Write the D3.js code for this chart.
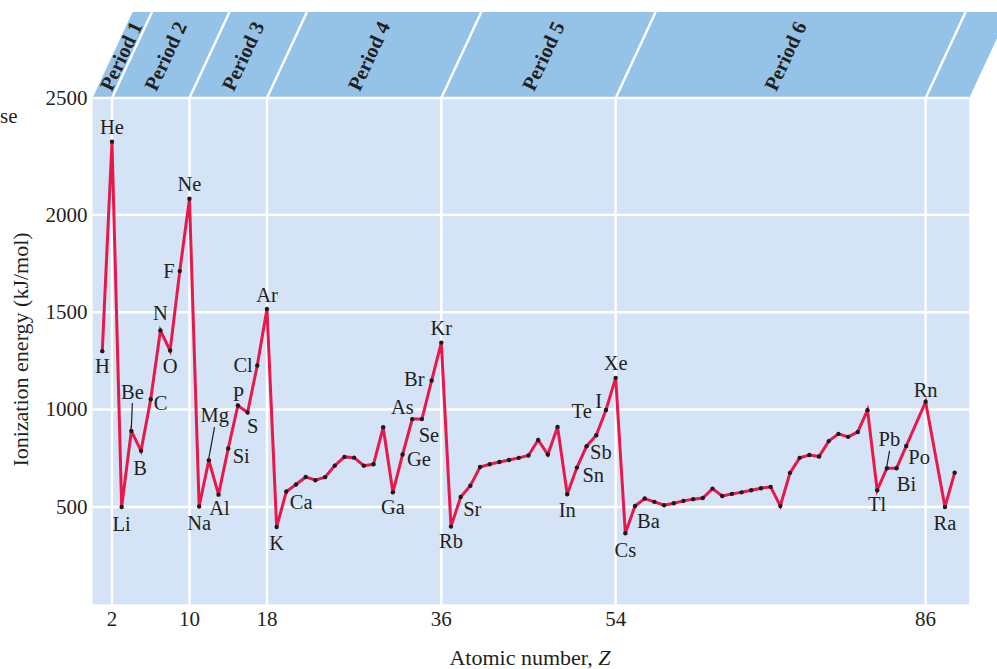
<!DOCTYPE html>
<html>
<head>
<meta charset="utf-8">
<script src="https://cdn.jsdelivr.net/npm/d3@7"></script>
<style>
  html, body { margin: 0; padding: 0; background: #ffffff; }
  svg { display: block; }
  text { font-family: "Liberation Serif", "Times New Roman", serif; fill: #231f20; }
</style>
</head>
<body>
<svg id="chart" width="997" height="669"></svg>
<script>
// ---------------- DATA ----------------
const atomicNumbers = [
  1, 2, 3, 4, 5, 6, 7, 8, 9, 10,
  11, 12, 13, 14, 15, 16, 17, 18,
  19, 20, 21, 22, 23, 24, 25, 26, 27, 28, 29, 30, 31, 32, 33, 34, 35, 36,
  37, 38, 39, 40, 41, 42, 43, 44, 45, 46, 47, 48, 49, 50, 51, 52, 53, 54,
  55, 56, 57, 58, 59, 60, 61, 62, 63, 64, 65, 66, 67, 68, 69, 70, 71, 72,
  73, 74, 75, 76, 77, 78, 79, 80, 81, 82, 83, 84, 86, 88, 89
];
const symbols = [
  "H", "He", "Li", "Be", "B", "C", "N", "O", "F", "Ne",
  "Na", "Mg", "Al", "Si", "P", "S", "Cl", "Ar",
  "K", "Ca", "Sc", "Ti", "V", "Cr", "Mn", "Fe", "Co", "Ni", "Cu", "Zn", "Ga", "Ge", "As", "Se", "Br", "Kr",
  "Rb", "Sr", "Y", "Zr", "Nb", "Mo", "Tc", "Ru", "Rh", "Pd", "Ag", "Cd", "In", "Sn", "Sb", "Te", "I", "Xe",
  "Cs", "Ba", "La", "Ce", "Pr", "Nd", "Pm", "Sm", "Eu", "Gd", "Tb", "Dy", "Ho", "Er", "Tm", "Yb", "Lu", "Hf",
  "Ta", "W", "Re", "Os", "Ir", "Pt", "Au", "Hg", "Tl", "Pb", "Bi", "Po", "Rn", "Ra", "Ac"
];
const ionizationEnergies = [
  1300, 2375, 500, 890, 788, 1053, 1406, 1303, 1711, 2083,
  502, 740, 563, 800, 1021, 985, 1226, 1517,
  397, 579, 615, 654, 637, 653, 712, 757, 753, 712, 719, 909, 575, 769, 951, 951, 1149, 1344,
  399, 551, 609, 705, 719, 731, 741, 752, 764, 844, 769, 911, 565, 702, 812, 868, 998, 1163,
  365, 505, 543, 526, 509, 519, 531, 540, 546, 594, 556, 567, 575, 586, 596, 603, 505, 675,
  752, 767, 759, 838, 875, 860, 885, 997, 586, 699, 699, 813, 1040, 500, 676
];
const labeledSymbols = [
  "H", "He", "Li", "Be", "B", "C", "N", "O", "F", "Ne",
  "Na", "Mg", "Al", "Si", "P", "S", "Cl", "Ar",
  "K", "Ca", "Ga", "Ge", "As", "Se", "Br", "Kr",
  "Rb", "Sr", "In", "Sn", "Sb", "Te", "I", "Xe",
  "Cs", "Ba", "Tl", "Pb", "Bi", "Po", "Rn", "Ra"
];
const periodBoundaries = [2, 10, 18, 36, 54, 86];
const periodLabels = ["Period 1", "Period 2", "Period 3", "Period 4", "Period 5", "Period 6"];
const xTicks = [2, 10, 18, 36, 54, 86];
const yTicks = [500, 1000, 1500, 2000, 2500];
const xTitle = "Atomic number, ";
const xTitleVar = "Z";
const yTitle = "Ionization energy (kJ/mol)";

// ---------------- LAYOUT ----------------
const svg = d3.select("#chart");
const panel = { left: 92.6, right: 969.2, top: 98, bottom: 604.3 };
const headerTop = 12;
const slant = 40; // horizontal shift of header top edge
const x = d3.scaleLinear().domain([0, 90.5]).range([panel.left, panel.right]);
const y = d3.scaleLinear().domain([0, 2600]).range([panel.bottom, panel.top]);
const zMin = 0, zMax = 90.5;

const colHeader = "#95c2e7";
const colPanel = "#d4e3f5";
const colLine = "#e8184b";

// Panel background
svg.append("rect")
  .attr("x", x(zMin)).attr("y", panel.top)
  .attr("width", x(zMax) - x(zMin)).attr("height", panel.bottom - panel.top)
  .attr("fill", colPanel);

// Header band (slanted)
const hH = panel.top - headerTop;
svg.append("path")
  .attr("d", `M${x(zMin)},${panel.top} L${x(zMin) + slant},${headerTop} L${x(zMax) + slant},${headerTop} L${x(zMax)},${panel.top} Z`)
  .attr("fill", colHeader);

// Horizontal gridlines
const gridG = svg.append("g").attr("stroke", "#ffffff").attr("stroke-width", 2.4);
yTicks.slice(0, -1).forEach(v => {
  gridG.append("line").attr("x1", x(zMin)).attr("x2", x(zMax)).attr("y1", y(v)).attr("y2", y(v));
});
// Top edge line
gridG.append("line").attr("x1", x(zMin)).attr("x2", x(zMax)).attr("y1", panel.top).attr("y2", panel.top);
// Vertical gridlines + header dividers
xTicks.forEach(v => {
  gridG.append("line").attr("x1", x(v)).attr("x2", x(v)).attr("y1", panel.top).attr("y2", panel.bottom);
});
periodBoundaries.forEach(b => {
  gridG.append("line").attr("x1", x(b)).attr("x2", x(b) + slant).attr("y1", panel.top).attr("y2", headerTop);
});

// Period labels
const edges = [zMin].concat(periodBoundaries);
periodLabels.forEach((lab, i) => {
  const mid = (x(edges[i]) + x(edges[i + 1])) / 2;
  const cy = 56;
  const cx = mid + slant * (panel.top - cy) / hH - (i === 0 ? 1 : 5);
  svg.append("text")
    .attr("transform", `translate(${cx},${cy}) rotate(-65)`)
    .attr("text-anchor", "middle")
    .attr("dy", "0.35em")
    .attr("font-weight", "bold")
    .attr("font-size", 20.5)
    .text(lab);
});

// Data line and dots
const pts = atomicNumbers.map((z, i) => ({ z, s: symbols[i], v: ionizationEnergies[i] }));
const line = d3.line().x(d => x(d.z)).y(d => y(d.v));
svg.append("path").datum(pts)
  .attr("d", line)
  .attr("fill", "none")
  .attr("stroke", colLine)
  .attr("stroke-width", 3)
  .attr("stroke-linejoin", "miter");
svg.append("g").selectAll("circle").data(pts).join("circle")
  .attr("cx", d => x(d.z)).attr("cy", d => y(d.v)).attr("r", 2.2)
  .attr("fill", "#1c1c1c");

// Element labels (offset from point: dx, dy to text centre, anchor)
const labelLayout = {
  H: [0, 15, "middle"], He: [0, -15, "middle"], Li: [0, 17, "middle"], Be: [1, -38.5, "middle"],
  B: [-1, 17, "middle"], C: [3, 4, "start"], N: [0, -17, "middle"], O: [0, 16, "middle"],
  F: [-5, 0, "end"], Ne: [0, -14, "middle"], Na: [0, 17, "middle"], Mg: [6, -44.5, "middle"],
  Al: [1, 14, "middle"], Si: [4.5, 8, "start"], P: [0.5, -11, "middle"], S: [5, 14, "middle"],
  Cl: [-4.5, 0, "end"], Ar: [0, -14, "middle"], K: [0, 16, "middle"], Ca: [3.5, 11, "start"],
  Ga: [0, 15, "middle"], Ge: [4.5, 5, "start"], As: [1.5, -12, "end"], Se: [7, 16, "middle"],
  Br: [-7, -1, "end"], Kr: [0, -14, "middle"], Rb: [0, 15, "middle"], Sr: [2.5, 12, "start"],
  In: [0, 16, "middle"], Sn: [5.5, 8, "start"], Sb: [3.5, 6, "start"], Te: [-4.5, -24, "end"],
  I: [-4, -9, "end"], Xe: [0, -15, "middle"], Cs: [0, 17, "middle"], Ba: [2, 15, "start"],
  Tl: [0, 14, "middle"], Pb: [2.5, -28.5, "middle"], Bi: [10, 16, "middle"], Po: [2, 11, "start"],
  Rn: [0, -12, "middle"], Ra: [0, 16, "middle"]
};
const leaders = { Be: [1, -28, 0, -3], Mg: [5.7, -33, 0, -2], Pb: [2.7, -17.3, 0, -2] };
const labelFont = 20.5;
const labG = svg.append("g");
labeledSymbols.forEach(s => {
  const d = pts.find(p => p.s === s);
  if (!d) return;
  const [dx, dy, anchor] = labelLayout[s];
  const px = x(d.z), py = y(d.v);
  labG.append("text")
    .attr("x", px + dx).attr("y", py + dy + labelFont * 0.33)
    .attr("text-anchor", anchor)
    .attr("font-size", labelFont)
    .text(s);
  if (leaders[s]) {
    const [x1, y1, x2, y2] = leaders[s];
    labG.append("line")
      .attr("x1", px + x1).attr("y1", py + y1).attr("x2", px + x2).attr("y2", py + y2)
      .attr("stroke", "#231f20").attr("stroke-width", 1.2);
  }
});

// Axis tick labels
const tickFont = 21;
yTicks.forEach((v, i) => {
  const yy = i === yTicks.length - 1 ? panel.top : y(v);
  svg.append("text")
    .attr("x", 87.5).attr("y", yy + tickFont * 0.33)
    .attr("text-anchor", "end").attr("font-size", tickFont)
    .text(v);
});
xTicks.forEach(v => {
  svg.append("text")
    .attr("x", x(v)).attr("y", 619 + tickFont * 0.33)
    .attr("text-anchor", "middle").attr("font-size", tickFont)
    .text(v);
});

// Axis titles
const xt = svg.append("text")
  .attr("x", 530).attr("y", 665)
  .attr("text-anchor", "middle").attr("font-size", 22);
xt.append("tspan").text(xTitle);
xt.append("tspan").attr("font-style", "italic").text(xTitleVar);

svg.append("text")
  .attr("transform", "translate(27.5,349.5) rotate(-90)")
  .attr("text-anchor", "middle").attr("font-size", 22)
  .text(yTitle);

// Fragment of neighbouring text at far left
svg.append("text")
  .attr("x", 0).attr("y", 123)
  .attr("text-anchor", "start").attr("font-size", 21)
  .text("se");
</script>
</body>
</html>
